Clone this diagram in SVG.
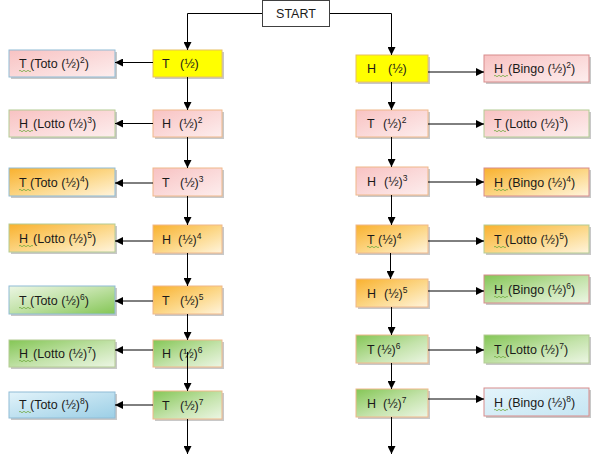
<svg xmlns="http://www.w3.org/2000/svg" width="600" height="470" viewBox="0 0 600 470">
<defs>
<linearGradient id="gPink" x1="0" y1="0" x2="1" y2="1"><stop offset="0" stop-color="#f8c2c2"/><stop offset="1" stop-color="#fdeeee"/></linearGradient>
<linearGradient id="gOrange" x1="0" y1="0" x2="1" y2="1"><stop offset="0" stop-color="#f9b12e"/><stop offset="0.55" stop-color="#fcd88a"/><stop offset="1" stop-color="#fff4dc"/></linearGradient>
<linearGradient id="gGreen" x1="0" y1="0" x2="1" y2="1"><stop offset="0" stop-color="#84c655"/><stop offset="0.55" stop-color="#c4e3ab"/><stop offset="1" stop-color="#ecf6e4"/></linearGradient>
<linearGradient id="gGreenR" x1="0" y1="0" x2="1" y2="1"><stop offset="0" stop-color="#ecf6e4"/><stop offset="0.45" stop-color="#c4e3ab"/><stop offset="1" stop-color="#84c655"/></linearGradient>
<linearGradient id="gBlue" x1="0" y1="0" x2="1" y2="1"><stop offset="0" stop-color="#e2f3fa"/><stop offset="1" stop-color="#9ccfe6"/></linearGradient>
<linearGradient id="gBlueL" x1="0" y1="0" x2="1" y2="1"><stop offset="0" stop-color="#e4f4fb"/><stop offset="1" stop-color="#c6e6f3"/></linearGradient>
<marker id="ah" viewBox="0 0 10 10" refX="10" refY="5" markerWidth="8" markerHeight="8" markerUnits="userSpaceOnUse" orient="auto"><path d="M0,0 L10,5 L0,10 z" fill="#000"/></marker>
</defs>
<style>
text{font-family:"Liberation Sans",Arial,sans-serif;font-size:12.5px;fill:#1a1a1a}
.sup{font-size:8.5px}
.sh{fill:#c8c8c8}
.start{fill:#fff;stroke:#404040;stroke-width:1}
.cen{stroke:#f0b88a;stroke-width:1}
.yel{fill:#ffff00;stroke:#e8c060;stroke-width:1}
.bb{stroke:#8fbcd6;stroke-width:1}
.gb{stroke:#b4cc94;stroke-width:1}
.rb{stroke:#d88c8c;stroke-width:1}
.sq{fill:none;stroke:#6ea83c;stroke-width:0.8}
#connectors path{fill:none;stroke:#000;stroke-width:1}
.arr{marker-end:url(#ah)}
</style>
<rect width="600" height="470" fill="#fff"/>

<g id="start"><rect class="start" x="262.5" y="0.5" width="67" height="26"/><text x="296" y="18" text-anchor="middle">START</text></g>

<!-- left center column -->
<g id="L1"><rect class="sh" x="155" y="52" width="69" height="27"/><rect class="yel" x="153" y="50" width="69" height="27"/><text x="162" y="68">T<tspan x="180">(½)</tspan></text></g>
<g id="L2"><rect class="sh" x="155" y="112" width="69" height="27"/><rect class="cen" fill="url(#gPink)" x="153" y="110" width="69" height="27"/><text x="162" y="128">H<tspan x="179">(½)</tspan><tspan class="sup" dy="-5">2</tspan></text></g>
<g id="L3"><rect class="sh" x="155" y="170" width="69" height="28"/><rect class="cen" fill="url(#gPink)" x="153" y="168" width="69" height="28"/><text x="162" y="187">T<tspan x="180">(½)</tspan><tspan class="sup" dy="-5">3</tspan></text></g>
<g id="L4"><rect class="sh" x="155" y="227" width="69" height="28"/><rect class="cen" fill="url(#gOrange)" x="153" y="225" width="69" height="28"/><text x="162" y="244">H<tspan x="178">(½)</tspan><tspan class="sup" dy="-5">4</tspan></text></g>
<g id="L5"><rect class="sh" x="155" y="288" width="69" height="28"/><rect class="cen" fill="url(#gOrange)" x="153" y="286" width="69" height="28"/><text x="162" y="305">T<tspan x="180">(½)</tspan><tspan class="sup" dy="-5">5</tspan></text></g>
<g id="L6"><rect class="sh" x="155" y="342" width="69" height="27"/><rect class="cen" fill="url(#gGreen)" x="153" y="340" width="69" height="27"/><text x="162" y="358">H<tspan x="179">(½)</tspan><tspan class="sup" dy="-5">6</tspan></text></g>
<g id="L7"><rect class="sh" x="155" y="393" width="69" height="28"/><rect class="cen" fill="url(#gGreen)" x="153" y="391" width="69" height="28"/><text x="162" y="410">T<tspan x="180">(½)</tspan><tspan class="sup" dy="-5">7</tspan></text></g>

<!-- left outer column -->
<g id="LL1"><rect class="sh" x="11" y="52" width="106" height="27"/><rect class="bb" fill="url(#gPink)" x="9" y="50" width="106" height="27"/><text x="19" y="68">T<tspan x="30">(Toto (½)</tspan><tspan class="sup" dy="-5">2</tspan><tspan dy="5">)</tspan></text><path class="sq" d="M19,71 q1,-1.4 2,0 t2,0 t2,0 t2,0 t2,0 t2,0"/></g>
<g id="LL2"><rect class="sh" x="11" y="112" width="106" height="27"/><rect class="gb" fill="url(#gPink)" x="9" y="110" width="106" height="27"/><text x="19" y="128">H<tspan x="33">(Lotto (½)</tspan><tspan class="sup" dy="-5">3</tspan><tspan dy="5">)</tspan></text><path class="sq" d="M19,131 q1,-1.4 2,0 t2,0 t2,0 t2,0 t2,0 t2,0 t2,0"/></g>
<g id="LL3"><rect class="sh" x="11" y="170" width="106" height="28"/><rect class="bb" fill="url(#gOrange)" x="9" y="168" width="106" height="28"/><text x="19" y="187">T<tspan x="30">(Toto (½)</tspan><tspan class="sup" dy="-5">4</tspan><tspan dy="5">)</tspan></text><path class="sq" d="M19,190 q1,-1.4 2,0 t2,0 t2,0 t2,0 t2,0 t2,0"/></g>
<g id="LL4"><rect class="sh" x="11" y="226" width="106" height="28"/><rect class="gb" fill="url(#gOrange)" x="9" y="224" width="106" height="28"/><text x="19" y="243">H<tspan x="33">(Lotto (½)</tspan><tspan class="sup" dy="-5">5</tspan><tspan dy="5">)</tspan></text><path class="sq" d="M19,246 q1,-1.4 2,0 t2,0 t2,0 t2,0 t2,0 t2,0 t2,0"/></g>
<g id="LL5"><rect class="sh" x="11" y="288" width="106" height="28"/><rect class="bb" fill="url(#gGreenR)" x="9" y="286" width="106" height="28"/><text x="19" y="305">T<tspan x="30">(Toto (½)</tspan><tspan class="sup" dy="-5">6</tspan><tspan dy="5">)</tspan></text><path class="sq" d="M19,308 q1,-1.4 2,0 t2,0 t2,0 t2,0 t2,0 t2,0"/></g>
<g id="LL6"><rect class="sh" x="11" y="342" width="106" height="27"/><rect class="gb" fill="url(#gGreen)" x="9" y="340" width="106" height="27"/><text x="19" y="358">H<tspan x="33">(Lotto (½)</tspan><tspan class="sup" dy="-5">7</tspan><tspan dy="5">)</tspan></text><path class="sq" d="M19,361 q1,-1.4 2,0 t2,0 t2,0 t2,0 t2,0 t2,0 t2,0"/></g>
<g id="LL7"><rect class="sh" x="11" y="394" width="106" height="26"/><rect class="bb" fill="url(#gBlue)" x="9" y="392" width="106" height="26"/><text x="19" y="409">T<tspan x="30">(Toto (½)</tspan><tspan class="sup" dy="-5">8</tspan><tspan dy="5">)</tspan></text><path class="sq" d="M19,412 q1,-1.4 2,0 t2,0 t2,0 t2,0 t2,0 t2,0"/></g>

<!-- right center column -->
<g id="R1"><rect class="sh" x="358" y="57" width="72" height="27"/><rect class="yel" x="356" y="55" width="72" height="27"/><text x="367" y="73">H<tspan x="388">(½)</tspan></text></g>
<g id="R2"><rect class="sh" x="358" y="112" width="72" height="27"/><rect class="cen" fill="url(#gPink)" x="356" y="110" width="72" height="27"/><text x="367" y="128">T<tspan x="383">(½)</tspan><tspan class="sup" dy="-5">2</tspan></text></g>
<g id="R3"><rect class="sh" x="358" y="169" width="72" height="28"/><rect class="cen" fill="url(#gPink)" x="356" y="167" width="72" height="28"/><text x="367" y="186">H<tspan x="384">(½)</tspan><tspan class="sup" dy="-5">3</tspan></text></g>
<g id="R4"><rect class="sh" x="358" y="227" width="72" height="28"/><rect class="cen" fill="url(#gOrange)" x="356" y="225" width="72" height="28"/><text x="367" y="244">T<tspan x="378">(½)</tspan><tspan class="sup" dy="-5">4</tspan></text><path class="sq" d="M367,247 q1,-1.4 2,0 t2,0 t2,0 t2,0 t2,0 t2,0"/></g>
<g id="R5"><rect class="sh" x="358" y="281" width="72" height="28"/><rect class="cen" fill="url(#gOrange)" x="356" y="279" width="72" height="28"/><text x="367" y="298">H<tspan x="384">(½)</tspan><tspan class="sup" dy="-5">5</tspan></text></g>
<g id="R6"><rect class="sh" x="358" y="337" width="72" height="28"/><rect class="cen" fill="url(#gGreen)" x="356" y="335" width="72" height="28"/><text x="367" y="354">T<tspan x="377">(½)</tspan><tspan class="sup" dy="-5">6</tspan></text></g>
<g id="R7"><rect class="sh" x="358" y="391" width="72" height="28"/><rect class="cen" fill="url(#gGreen)" x="356" y="389" width="72" height="28"/><text x="367" y="408">H<tspan x="383">(½)</tspan><tspan class="sup" dy="-5">7</tspan></text></g>

<!-- right outer column -->
<g id="RR1"><rect class="sh" x="486" y="57" width="105" height="27"/><rect class="rb" fill="url(#gPink)" x="484" y="55" width="105" height="27"/><text x="494" y="73">H<tspan x="508">(Bingo (½)</tspan><tspan class="sup" dy="-5">2</tspan><tspan dy="5">)</tspan></text><path class="sq" d="M494,76 q1,-1.4 2,0 t2,0 t2,0 t2,0 t2,0 t2,0 t2,0"/></g>
<g id="RR2"><rect class="sh" x="486" y="112" width="105" height="27"/><rect class="gb" fill="url(#gPink)" x="484" y="110" width="105" height="27"/><text x="494" y="128">T<tspan x="505">(Lotto (½)</tspan><tspan class="sup" dy="-5">3</tspan><tspan dy="5">)</tspan></text><path class="sq" d="M494,131 q1,-1.4 2,0 t2,0 t2,0 t2,0 t2,0 t2,0"/></g>
<g id="RR3"><rect class="sh" x="486" y="170" width="105" height="28"/><rect class="rb" fill="url(#gOrange)" x="484" y="168" width="105" height="28"/><text x="494" y="187">H<tspan x="508">(Bingo (½)</tspan><tspan class="sup" dy="-5">4</tspan><tspan dy="5">)</tspan></text><path class="sq" d="M494,190 q1,-1.4 2,0 t2,0 t2,0 t2,0 t2,0 t2,0 t2,0"/></g>
<g id="RR4"><rect class="sh" x="486" y="227" width="105" height="28"/><rect class="gb" fill="url(#gOrange)" x="484" y="225" width="105" height="28"/><text x="494" y="244">T<tspan x="505">(Lotto (½)</tspan><tspan class="sup" dy="-5">5</tspan><tspan dy="5">)</tspan></text><path class="sq" d="M494,247 q1,-1.4 2,0 t2,0 t2,0 t2,0 t2,0 t2,0"/></g>
<g id="RR5"><rect class="sh" x="486" y="277" width="105" height="28"/><rect class="rb" fill="url(#gGreen)" x="484" y="275" width="105" height="28"/><text x="494" y="294">H<tspan x="508">(Bingo (½)</tspan><tspan class="sup" dy="-5">6</tspan><tspan dy="5">)</tspan></text><path class="sq" d="M494,297 q1,-1.4 2,0 t2,0 t2,0 t2,0 t2,0 t2,0 t2,0"/></g>
<g id="RR6"><rect class="sh" x="486" y="337" width="105" height="28"/><rect class="gb" fill="url(#gGreen)" x="484" y="335" width="105" height="28"/><text x="494" y="354">T<tspan x="505">(Lotto (½)</tspan><tspan class="sup" dy="-5">7</tspan><tspan dy="5">)</tspan></text><path class="sq" d="M494,357 q1,-1.4 2,0 t2,0 t2,0 t2,0 t2,0 t2,0"/></g>
<g id="RR7"><rect class="sh" x="486" y="390" width="105" height="28"/><rect class="rb" fill="url(#gBlueL)" x="484" y="388" width="105" height="28"/><text x="494" y="407">H<tspan x="508">(Bingo (½)</tspan><tspan class="sup" dy="-5">8</tspan><tspan dy="5">)</tspan></text><path class="sq" d="M494,410 q1,-1.4 2,0 t2,0 t2,0 t2,0 t2,0 t2,0 t2,0"/></g>

<g id="connectors">
<path class="arr" d="M262,13.5 H187.5 V50"/>
<path class="arr" d="M330,13.5 H391.5 V55"/>
<path class="arr" d="M187.5,77 V110"/>
<path class="arr" d="M187.5,137 V168"/>
<path class="arr" d="M187.5,196 V225"/>
<path class="arr" d="M187.5,253 V286"/>
<path class="arr" d="M187.5,314 V340"/>
<path class="arr" d="M187.5,352 V391"/>
<path class="arr" d="M187.5,419 V454"/>
<path class="arr" d="M153,62.5 H115"/>
<path class="arr" d="M153,123.5 H115"/>
<path class="arr" d="M153,183 H115"/>
<path class="arr" d="M153,241 H115"/>
<path class="arr" d="M153,301 H115"/>
<path class="arr" d="M153,350 H115"/>
<path class="arr" d="M153,405 H115"/>
<path class="arr" d="M391.5,82 V110"/>
<path class="arr" d="M391.5,137 V167"/>
<path class="arr" d="M391.5,195 V225"/>
<path class="arr" d="M390.5,253 V279"/>
<path class="arr" d="M391.5,307 V335"/>
<path class="arr" d="M391.5,363 V389"/>
<path class="arr" d="M391.5,417 V454"/>
<path class="arr" d="M428,72 H484"/>
<path class="arr" d="M428,124 H484"/>
<path class="arr" d="M428,182 H484"/>
<path class="arr" d="M428,241 H484"/>
<path class="arr" d="M428,291 H484"/>
<path class="arr" d="M428,350 H484"/>
<path class="arr" d="M428,399 H484"/>
</g>
</svg>
